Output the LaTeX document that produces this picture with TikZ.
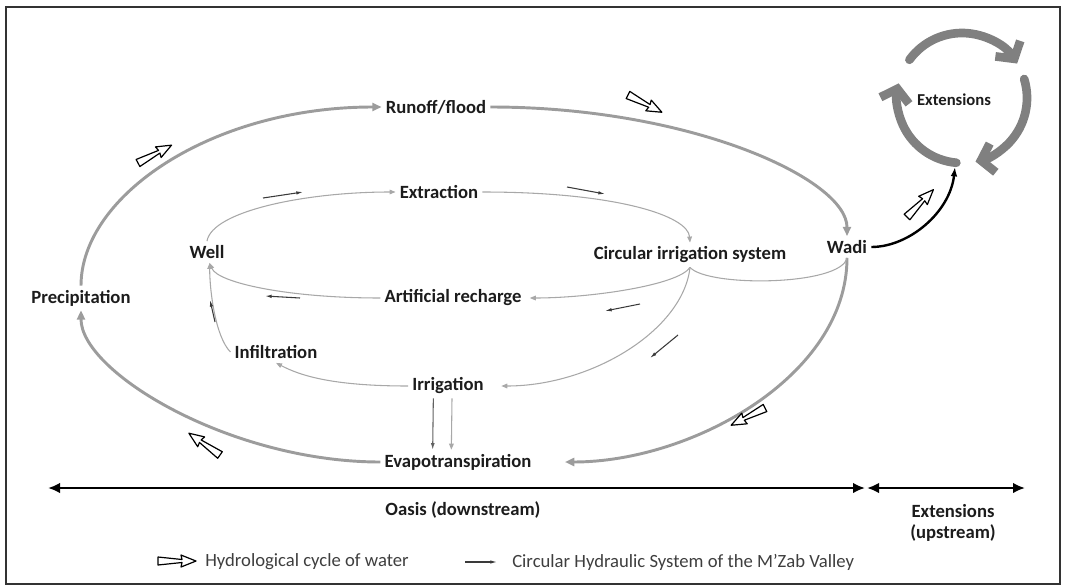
\documentclass[tikz,border=0pt]{standalone}
\usepackage{fontspec}
\setmainfont{Carlito}
\usetikzlibrary{arrows.meta,positioning}
\definecolor{cyclegray}{HTML}{9C9C9C}
\definecolor{chsgray}{HTML}{A8A8A8}
\definecolor{ringgray}{HTML}{808080}
\definecolor{flowdark}{HTML}{3A3A3A}
\definecolor{txtblack}{HTML}{1C1C1C}

\tikzset{
  lbl/.style={font=\fontsize{14}{16}\selectfont\bfseries, text=txtblack, inner sep=3pt},
  legtxt/.style={font=\fontsize{14}{16}\selectfont, text=txtblack!85, anchor=west, inner sep=0pt},
  hydro/.style={draw=cyclegray, line width=2.2pt, -{Triangle[length=7pt,width=6pt]}},
  chs/.style={draw=chsgray, line width=0.8pt, -{Triangle[length=4.5pt,width=3.5pt]}},
  flowarr/.style={draw=flowdark, line width=0.8pt, -{Latex[length=5pt,width=2.6pt]}},
  spanarr/.style={line width=2pt, {Latex[length=9pt,width=8pt]}-{Latex[length=9pt,width=8pt]}},
  ringarr/.style={draw=ringgray, line width=6.5pt, line cap=round, -{Straight Barb[length=9pt,width=22pt]}},
  hollowarr/.pic={\draw[line width=0.9pt, fill=white, line join=round]
    (0,-4) -- (24,-1.5) -- (23,-6) -- (38,0) -- (23,6) -- (24,1.5) -- (0,4) -- cycle;}
}

\begin{document}
\begin{tikzpicture}[x=0.75pt,y=-0.75pt]
\useasboundingbox (0,0) rectangle (1066,585);
\draw[line width=0.8pt, draw=black!80] (6,7) rectangle (1060,584);

% labels
\node[lbl] (runoff) at (436,107) {Runoff/flood};
\node[lbl] (extraction) at (439,192) {Extraction};
\node[lbl] (well) at (207,252) {Well};
\node[lbl] (circirr) at (690,255) {Circular irrigation system};
\node[lbl] (wadi) at (847,247) {Wadi};
\node[lbl] (precip) at (81,298) {Precipitation};
\node[lbl] (artrech) at (453,298) {Artificial recharge};
\node[lbl] (infil) at (276,352) {Infiltration};
\node[lbl] (irrig) at (448,386) {Irrigation};
\node[lbl] (evapo) at (458,462) {Evapotranspiration};
\node[lbl, font=\fontsize{12.5}{14}\selectfont\bfseries] (ext) at (954,100) {Extensions};
\coordinate (ring) at (962,98);
\coordinate (extin) at (955,167);

% hydrological cycle
\draw[hydro] (precip.north) .. controls +(0,-90) and +(-170,0) .. (runoff.west);
\draw[hydro] (runoff.east) .. controls +(200,0) and +(0,-57) .. (wadi.north);
\draw[hydro] (wadi.south) .. controls +(0,118) and +(127,0) .. ([xshift=22pt]evapo.east);
\draw[hydro] (evapo.west) .. controls +(-150,0) and +(0,62) .. (precip.south);
\draw[line width=1.8pt, -{Latex[length=7pt,width=5pt]}] (wadi.east) .. controls +(38,0) and +(-5,45) .. (extin);

% circular hydraulic system
\draw[chs] (well.north) .. controls +(5,-30) and +(-90,0) .. (extraction.west);
\draw[chs] (extraction.east) .. controls +(133,0) and +(-2,-27) .. (circirr.north);
\draw[chs] (circirr.south) .. controls +(-12,18) and +(60,0) .. ([xshift=3pt]artrech.east);
\draw[draw=chsgray, line width=0.8pt] (circirr.south) .. controls +(18,20) and +(-6,28) .. (wadi.south);
\draw[chs] (circirr.south) .. controls +(-7,63) and +(90,0) .. ([xshift=10pt]irrig.east);
\draw[chs] (artrech.west) .. controls +(-92,0) and +(8,20) .. ([xshift=2pt]well.south);
\draw[chs] (infil.west) .. controls +(-15,-15) and +(0,28) .. ([xshift=2pt]well.south);
\draw[chs] (irrig.west) .. controls +(-78,0) and +(23,12) .. (infil.south);
\draw[line width=0.8pt, draw=flowdark!80, -{Latex[length=5pt,width=3pt]}] ([xshift=-11pt]irrig.south) -- ([xshift=-19pt]evapo.north);
\draw[chs] ([xshift=3pt]irrig.south) -- ([xshift=-5pt]evapo.north);

% flow direction marks
\draw[flowarr] (263,198) -- (303,192);
\draw[flowarr] (567,187) -- (605,194);
\draw[flowarr] (300,298) -- (265,296);
\draw[flowarr] (215,322) -- (210,300);
\draw[flowarr] (640,304) -- (605,311);
\draw[flowarr] (678,335) -- (650,358);

\pic[rotate=28] at (138,163) {hollowarr};
\pic[rotate=-27] at (628,95) {hollowarr};
\pic[rotate=46] at (907,217) {hollowarr};
\pic[rotate=-153] at (765,408) {hollowarr};
\pic[rotate=145] at (220,455) {hollowarr};

% extensions ring
\draw[ringarr] (ring) ++(-144:65) arc[start angle=-144, end angle=-32, radius=65];
\draw[ringarr] (ring) ++(-17:65) arc[start angle=-17, end angle=78, radius=65];
\draw[ringarr] (ring) ++(-265:65) arc[start angle=-265, end angle=-167, radius=65];

% oasis / extensions span
\coordinate (spanl) at (48,488);
\coordinate (spanm) at (866,488);
\coordinate (spanr) at (1025,488);
\draw[spanarr] (spanl) -- ([xshift=-0.75pt]spanm);
\draw[spanarr] ([xshift=0.75pt]spanm) -- (spanr);
\node[lbl] (oasis) at (463,510) {Oasis (downstream)};
\node[lbl, align=center] (extup) at (953,523) {Extensions\\(upstream)};

% legend
\pic at (158,561) {hollowarr};
\node[legtxt] (leg1) at (205,562) {Hydrological cycle of water};
\coordinate (legs) at (465,562);
\coordinate (lege) at (497,562);
\draw[flowarr] (legs) -- (lege);
\node[legtxt] (leg2) at (512,562) {Circular Hydraulic System of the M'Zab Valley};
\end{tikzpicture}
\end{document}
